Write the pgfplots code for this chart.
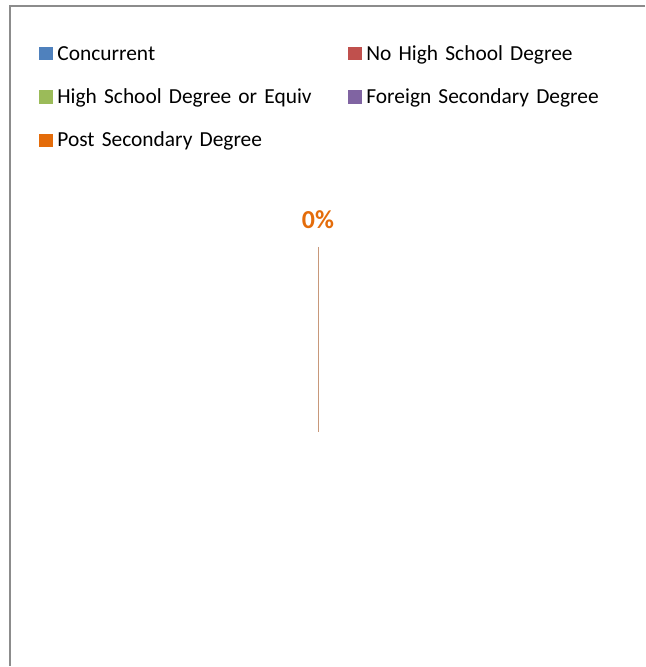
\documentclass[border=0pt]{standalone}
\usepackage{fontspec}
\setmainfont{Carlito}
\usepackage{pgfplots}
\pgfplotsset{compat=1.18}
\definecolor{cConc}{HTML}{4F81BD}
\definecolor{cNoHS}{HTML}{C0504D}
\definecolor{cHS}{HTML}{9BBB59}
\definecolor{cForeign}{HTML}{8064A2}
\definecolor{cPost}{HTML}{E46C0A}
\definecolor{cLeader}{HTML}{C8987A}
\definecolor{cFrame}{HTML}{8C8C8C}
\begin{document}
\begin{tikzpicture}
\begin{axis}[
    width=645bp, height=667bp,
    scale only axis,
    xmin=0, xmax=645, ymin=0, ymax=667,
    hide axis,
    clip=false,
    legend columns=2,
    legend cell align=left,
    legend style={
        draw=none, fill=none,
        at={(39/645,1-47/667)}, anchor=north west,
        inner sep=0pt,
        row sep=26bp,
        font=\fontsize{21.5}{24}\selectfont,
        nodes={inner sep=0pt, text height=12bp, text depth=4bp, text width=270bp, align=left},
        /tikz/every odd column/.append style={column sep=5.3bp},
        /tikz/every even column/.append style={column sep=20.8bp},
    },
]
% legend entries (all slices are zero, so no pie is drawn)
\addlegendimage{legend image code/.code={\fill[cConc] (0bp,-3.3bp) rectangle (12.5bp,9bp);}}
\addlegendentry{Concurrent}
\addlegendimage{legend image code/.code={\fill[cNoHS] (0bp,-3.3bp) rectangle (12.5bp,9bp);}}
\addlegendentry{No High School Degree}
\addlegendimage{legend image code/.code={\fill[cHS] (0bp,-3.3bp) rectangle (12.5bp,9bp);}}
\addlegendentry{High School Degree or Equiv}
\addlegendimage{legend image code/.code={\fill[cForeign] (0bp,-3.3bp) rectangle (12.5bp,9bp);}}
\addlegendentry{Foreign Secondary Degree}
\addlegendimage{legend image code/.code={\fill[cPost] (0bp,-3.3bp) rectangle (12.5bp,9bp);}}
\addlegendentry{Post Secondary Degree}

% keep the whole canvas in the bounding box
\addplot[forget plot, draw=none] coordinates {(0,0) (645,667)};

% chart frame
\addplot[forget plot, cFrame, line width=1.5bp] coordinates {(645,661) (10,661) (10,0.75)};

% leader line and data label
\addplot[forget plot, cLeader, line width=1bp] coordinates {(318,420) (318,235)};
\addplot[forget plot, draw=none, mark=none,
    nodes near coords={\textbf{0\%}},
    nodes near coords style={anchor=center, text=cPost, font=\fontsize{26}{28}\selectfont, inner sep=0pt}]
    coordinates {(318,447)};
\end{axis}
\end{tikzpicture}
\end{document}
